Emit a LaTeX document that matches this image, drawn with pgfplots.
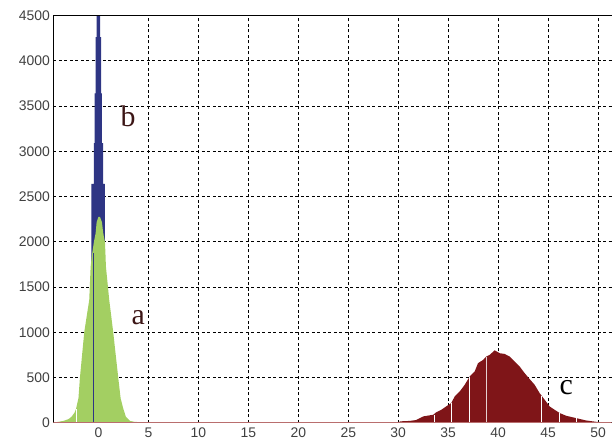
\documentclass[border=0pt]{standalone}
\usepackage{fontspec}
\setmainfont{Liberation Sans}
\newfontfamily\letterfont{Liberation Serif}
\usepackage{pgfplots}
\pgfplotsset{compat=1.18}

\definecolor{histA}{RGB}{163,207,98}
\definecolor{histB}{RGB}{46,53,132}
\definecolor{histC}{RGB}{127,21,24}
\definecolor{baseC}{RGB}{185,110,110}
\definecolor{lblAB}{RGB}{60,22,22}

\begin{document}
\begin{tikzpicture}
\begin{axis}[
  name=ax,
  scale only axis,
  width=558.5bp, height=407.5bp,
  xmin=-4.5, xmax=51.35,
  ymin=0, ymax=4500,
  xtick={0,5,...,50},
  ytick={0,500,...,4500},
  axis lines*=left,
  axis line style={black, line width=0.8bp},
  tick align=inside,
  major tick length=3bp,
  tick style={black, line width=0.6bp},
  grid=major,
  major grid style={black, line width=0.6bp, dash pattern=on 3bp off 2.5bp},
  tick label style={font=\fontsize{14}{14}\selectfont, text=black!75},
  /pgf/number format/assume math mode=true,
  /pgf/number format/1000 sep={},
  xticklabel style={yshift=-2bp},
  clip=true,
]
% b (blue, behind)
\addplot[fill=histB, draw=none] coordinates {
  (-0.70,0) (-0.70,2640) (-0.45,2640) (-0.45,3090) (-0.38,3090) (-0.38,3640)
  (-0.28,3640) (-0.28,4260) (-0.18,4260) (-0.18,4600) (0.18,4600) (0.18,4260)
  (0.28,4260) (0.28,3640) (0.35,3640) (0.35,3090) (0.48,3090) (0.48,2640)
  (0.65,2640) (0.65,0)
} \closedcycle;
% a (green)
\addplot[fill=histA, draw=none] coordinates {
  (-4.5,0) (-4.3,5) (-3.5,20) (-3.0,40) (-2.7,65) (-2.4,110) (-2.25,150)
  (-2.0,270) (-1.85,500) (-1.42,1000) (-0.92,1358) (-0.78,1724) (-0.62,1875)
  (-0.45,2000) (-0.28,2095) (-0.18,2217) (0.0,2275) (0.15,2275) (0.35,2217)
  (0.48,2095) (0.65,2000) (0.70,1875) (0.75,1724) (1.08,1358) (1.48,1000)
  (1.98,500) (2.22,270) (2.50,150) (2.75,65) (3.15,20) (3.6,10) (4.3,5) (4.6,0)
} \closedcycle;
% c (dark red)
\addplot[fill=histC, draw=none] coordinates {
  (30.15,15) (31.15,20) (31.8,30) (32.5,70) (33.5,88) (33.8,115) (34.3,143)
  (34.8,180) (35.3,217) (35.65,290) (36.15,345) (36.65,419) (37.15,511)
  (37.65,566) (37.98,658) (38.5,695) (38.8,731) (39.15,750) (39.65,800)
  (40.15,768) (40.65,760) (41.15,731) (41.65,676) (42.15,621) (42.65,548)
  (43.15,482) (43.65,419) (44.15,327) (44.65,254) (45.15,180) (45.65,143)
  (46.15,107) (46.8,77) (47.8,51) (48.8,25) (49.8,10) (50.5,5)
} \closedcycle;
% single blue bin showing through the green
\addplot[histB, line width=0.9bp] coordinates {(-0.52,0) (-0.52,1880)};
% white gaps between bins
\addplot[ycomb, white, line width=0.8bp, mark=none] coordinates {
  (-2.25,150) (33.6,88) (35.35,217) (37.1,505) (44.3,300) (46.15,107) (47.8,51)
};
\addplot[ycomb, white!80!histC, line width=0.8bp, mark=none] coordinates {(38.85,731)};
% near-zero bins along the axis
\addplot[baseC, line width=1.6bp] coordinates {(-4.5,0) (51.35,0)};

\node[font=\letterfont\fontsize{30}{30}\selectfont, text=lblAB] at (axis cs:2.98,3390) {b};
\node[font=\letterfont\fontsize{30}{30}\selectfont, text=lblAB] at (axis cs:3.98,1165) {a};
\node[font=\letterfont\fontsize{30}{30}\selectfont, text=black] at (axis cs:46.82,392) {c};
\end{axis}
\draw[black, line width=0.8bp] (ax.north west) -- (ax.north east);
\path (ax.south west) ++(-53.5bp,-24bp) coordinate (bl);
\path (ax.north east) ++(0bp,15.5bp) coordinate (tr);
\path (bl) rectangle (tr);
\end{tikzpicture}
\end{document}
